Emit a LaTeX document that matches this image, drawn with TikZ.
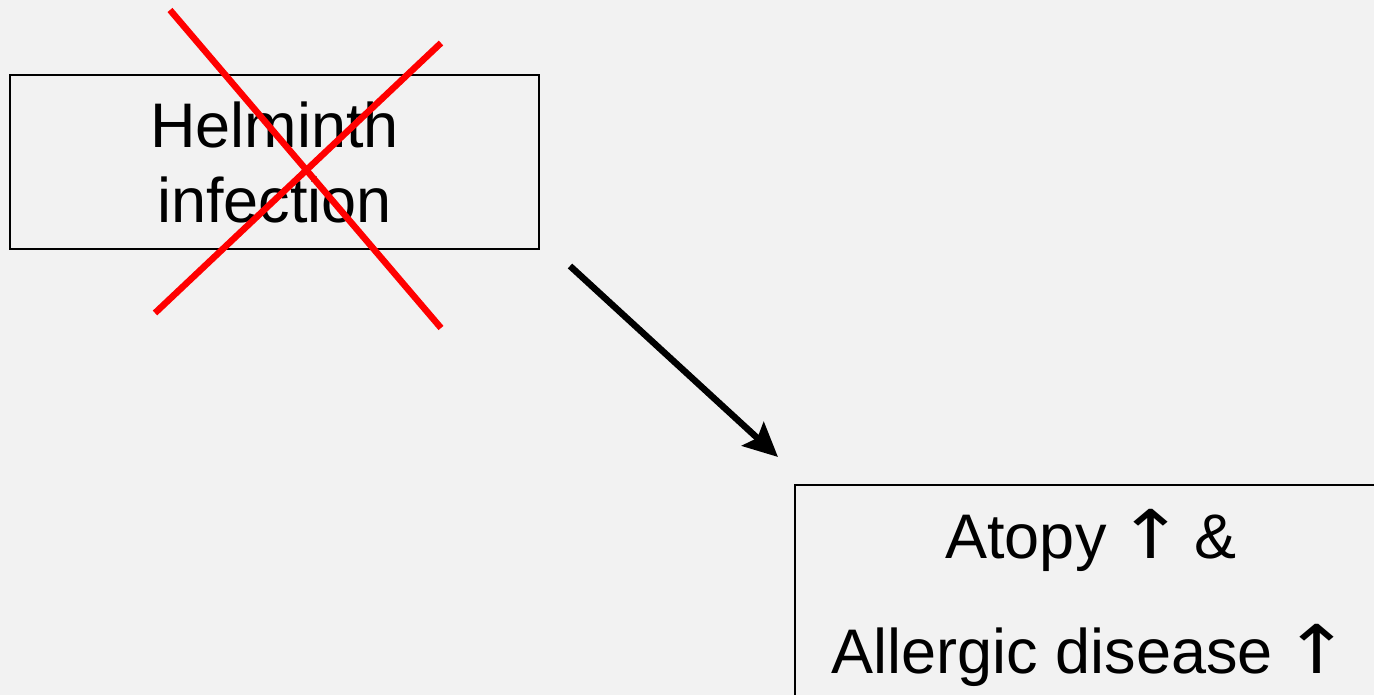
\documentclass[tikz,border=0pt]{standalone}
\usepackage{fontspec}
\setmainfont{Liberation Sans}
\newfontfamily\arrowfont{DejaVu Sans}
\usetikzlibrary{arrows.meta}
\definecolor{bg}{HTML}{F2F2F2}
\tikzset{
  box/.style={draw=black, line width=2pt, inner sep=0pt, align=center, text=black},
  cross/.style={draw=red, line width=6.5pt},
  flow/.style={draw=black, line width=6.5pt, -{Stealth[length=34pt,width=32pt,inset=6pt]}},
}
\newcommand{\up}{\scalebox{1.25}[1.05]{\arrowfont\fontsize{64}{64}\selectfont ↑}}
\begin{document}
\begin{tikzpicture}[x=1pt,y=-1pt]
  \fill[bg] (0,0) rectangle (1374,695);
  \useasboundingbox (0,0) rectangle (1374,695);
  \clip (0,0) rectangle (1374,695);

  % cause box, struck through
  \node[box, minimum width=529pt, minimum height=174pt,
        font=\fontsize{63}{75}\selectfont] (helminth) at (274.5,162)
        {Helminth\\infection};

  % outcome box, running past the right and bottom edges
  \node[box, minimum width=592pt, minimum height=226pt,
        font=\fontsize{63}{115}\selectfont] (atopy) at (1091,598)
        {Atopy\,\up\,\&\\Allergic disease\,\up};

  % red cross over the cause
  \coordinate (xa1) at (170,10);
  \coordinate (xa2) at (441,328);
  \coordinate (xb1) at (441,43);
  \coordinate (xb2) at (155,313);
  \draw[cross] (xa1) -- (xa2);
  \draw[cross] (xb1) -- (xb2);

  % consequence arrow
  \coordinate (from) at (570,266);
  \coordinate (to) at (778,457);
  \draw[flow] (from) -- (to);
\end{tikzpicture}
\end{document}
